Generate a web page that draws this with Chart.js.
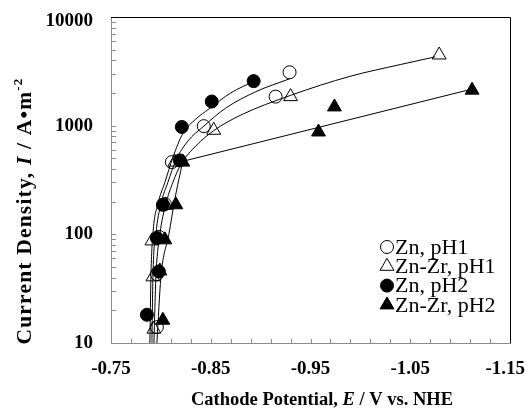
<!DOCTYPE html>
<html>
<head>
<meta charset="utf-8">
<script src="https://cdn.jsdelivr.net/npm/chart.js@4.4.0/dist/chart.umd.min.js"></script>
<style>
  html, body { margin: 0; padding: 0; background: #fff; }
</style>
</head>
<body>
<canvas id="chart" width="531" height="414"></canvas>
<script>
// Measured points (E in V vs. NHE, current density in A/m2)
const znPh1X = [-0.796, -0.796, -0.798, -0.804, -0.811, -0.843, -0.915, -0.929];
const znPh1Y = [14, 43, 95, 190, 462, 990, 1850, 3100];

const znZrPh1X = [-0.793, -0.792, -0.791, -0.805, -0.814, -0.853, -0.930, -1.079];
const znZrPh1Y = [13.4, 40.6, 87, 185, 462, 907, 1850, 4470];

const znPh2X = [-0.786, -0.798, -0.796, -0.802, -0.819, -0.821, -0.851, -0.893];
const znPh2Y = [18.2, 45.5, 92.6, 187, 479, 973, 1668, 2570];

const znZrPh2X = [-0.802, -0.799, -0.804, -0.815, -0.822, -0.958, -0.974, -1.112];
const znZrPh2Y = [16.2, 46, 89, 187, 462, 875, 1488, 2123];

// Fitted curves
const fitZnPh2X = [-0.789, -0.790, -0.792, -0.797, -0.804, -0.812, -0.822, -0.835, -0.848, -0.870, -0.893];
const fitZnPh2Y = [10, 40, 100, 190, 300, 510, 845, 1150, 1420, 2000, 2550];

const fitZnPh1X = [-0.791, -0.792, -0.795, -0.800, -0.807, -0.815, -0.827, -0.843, -0.865, -0.895, -0.929];
const fitZnPh1Y = [10, 40, 100, 190, 300, 480, 720, 990, 1450, 2050, 2700];

const fitZnZrPh1X = [-0.793, -0.795, -0.799, -0.805, -0.812, -0.820, -0.835, -0.853, -0.880, -0.930, -0.990, -1.040, -1.075];
const fitZnZrPh1Y = [10, 40, 100, 190, 300, 440, 650, 900, 1250, 1900, 2850, 3650, 4300];

const fitZnZrPh2X = [-0.796, -0.800, -0.808, -0.814, -0.818, -0.822];
const fitZnZrPh2Y = [10, 40, 100, 210, 320, 470];
const lineZnZrPh2X = [-0.822, -1.110];
const lineZnZrPh2Y = [470, 2150];

// Axis ticks
const xMajorTicks = [-0.75, -0.85, -0.95, -1.05, -1.15];
const xMinorTicks = [-0.77, -0.79, -0.81, -0.83, -0.85, -0.87, -0.89, -0.91, -0.93, -0.95, -0.97, -0.99,
                     -1.01, -1.03, -1.05, -1.07, -1.09, -1.11, -1.13];
const yMajorTicks = [10, 100, 1000, 10000];
const yMinorTicks = [20, 30, 40, 50, 60, 70, 80, 90, 100, 200, 300, 400, 500, 600, 700, 800, 900,
                     1000, 2000, 3000, 4000, 5000, 6000, 7000, 8000, 9000];

const legendLabels = ['Zn, pH1', 'Zn-Zr, pH1', 'Zn, pH2', 'Zn-Zr, pH2'];

const SERIF = '"Liberation Serif", "Times New Roman", serif';
const AXIS_GRAY = '#8c8c8c';

function pairs(xs, ys) {
    return xs.map((x, i) => ({ x: x, y: ys[i] }));
}

function markerSet(label, xs, ys, style, filled) {
    return {
        label: label,
        data: pairs(xs, ys),
        showLine: false,
        pointStyle: style,
        pointRadius: style === 'triangle' ? 8 : 6.5,
        pointBorderColor: '#000',
        pointBackgroundColor: filled ? '#000' : 'rgba(0,0,0,0)',
        pointBorderWidth: 1,
        order: 2
    };
}

function curveSet(xs, ys, smooth) {
    return {
        label: 'fit',
        data: pairs(xs, ys),
        showLine: true,
        borderColor: '#000',
        borderWidth: 1,
        pointRadius: 0,
        fill: false,
        cubicInterpolationMode: smooth ? 'monotone' : 'default',
        tension: 0,
        order: 1
    };
}

// draw a string made of pieces with their own fonts, centred on x
function drawRich(ctx, parts, cx, baseY) {
    let total = 0;
    parts.forEach(p => { ctx.font = p.font; p.w = ctx.measureText(p.text).width; total += p.w; });
    let x = cx - total / 2;
    parts.forEach(p => {
        ctx.font = p.font;
        ctx.fillText(p.text, x, baseY - (p.rise || 0));
        x += p.w;
    });
}

function drawMarker(ctx, style, filled, x, y) {
    ctx.beginPath();
    if (style === 'circle') {
        ctx.arc(x, y, 6.5, 0, Math.PI * 2);
    } else {
        const r = 8;
        ctx.moveTo(x, y - r);
        ctx.lineTo(x + r * 0.866, y + r * 0.5);
        ctx.lineTo(x - r * 0.866, y + r * 0.5);
        ctx.closePath();
    }
    if (filled) { ctx.fillStyle = '#000'; ctx.fill(); }
    ctx.strokeStyle = '#000';
    ctx.lineWidth = 1;
    ctx.stroke();
}

const decorPlugin = {
    id: 'decor',
    afterDraw(chart) {
        const ctx = chart.ctx;
        const area = chart.chartArea;
        const xs = chart.scales.x;
        const ys = chart.scales.y;
        ctx.save();

        // inner tick marks
        ctx.strokeStyle = AXIS_GRAY;
        ctx.lineWidth = 1;
        ctx.beginPath();
        xMinorTicks.forEach(v => {
            const px = Math.round(xs.getPixelForValue(v)) + 0.5;
            ctx.moveTo(px, area.bottom);
            ctx.lineTo(px, area.bottom - 4);
        });
        yMinorTicks.forEach(v => {
            const py = Math.round(ys.getPixelForValue(v)) + 0.5;
            ctx.moveTo(area.left, py);
            ctx.lineTo(area.left + 5, py);
        });
        ctx.stroke();

        // top and right frame
        ctx.strokeStyle = '#000';
        ctx.beginPath();
        ctx.moveTo(area.left, Math.round(area.top) + 0.5);
        ctx.lineTo(Math.round(area.right) + 0.5, Math.round(area.top) + 0.5);
        ctx.lineTo(Math.round(area.right) + 0.5, area.bottom);
        ctx.stroke();

        // tick labels
        ctx.fillStyle = '#000';
        ctx.font = 'bold 19px ' + SERIF;
        ctx.textBaseline = 'middle';
        ctx.textAlign = 'center';
        xMajorTicks.forEach(v => {
            const label = v.toFixed(2);
            const w = ctx.measureText(label).width;
            const px = Math.min(xs.getPixelForValue(v), chart.width - w / 2 - 6);
            ctx.fillText(label, px, area.bottom + 26);
        });
        ctx.textAlign = 'right';
        yMajorTicks.forEach(v => {
            let py = ys.getPixelForValue(v);
            py = Math.min(Math.max(py, area.top + 4), area.bottom + 2.5);
            ctx.fillText(String(v), area.left - 18, py);
        });

        // legend
        const styles = [['circle', false], ['triangle', false], ['circle', true], ['triangle', true]];
        legendLabels.forEach((lab, i) => {
            const ly = 247 + i * 19.3;
            drawMarker(ctx, styles[i][0], styles[i][1], 387, ly);
            ctx.fillStyle = '#000';
            ctx.font = '22px ' + SERIF;
            ctx.textAlign = 'left';
            ctx.fillText(lab, 395, ly + 1);
        });

        // axis titles
        ctx.fillStyle = '#000';
        ctx.textBaseline = 'alphabetic';
        ctx.textAlign = 'left';
        const bold = 'bold 18.5px ' + SERIF;
        const boldIt = 'italic bold 18.5px ' + SERIF;
        drawRich(ctx, [
            { text: 'Cathode Potential, ', font: bold },
            { text: 'E', font: boldIt },
            { text: ' / V vs. NHE', font: bold }
        ], 322, 405);

        const yb = 'bold 21.5px ' + SERIF;
        ctx.save();
        ctx.letterSpacing = '1.2px';
        ctx.translate(31, 211);
        ctx.rotate(-Math.PI / 2);
        drawRich(ctx, [
            { text: 'Current Density, ', font: yb },
            { text: 'I', font: 'italic ' + yb },
            { text: ' / A\u2022m', font: yb },
            { text: '-2', font: 'bold 13px ' + SERIF, rise: 9 }
        ], 0, 0);
        ctx.restore();

        ctx.restore();
    }
};

const datasets = [
    curveSet(fitZnPh2X, fitZnPh2Y, true),
    curveSet(fitZnPh1X, fitZnPh1Y, true),
    curveSet(fitZnZrPh1X, fitZnZrPh1Y, true),
    curveSet(fitZnZrPh2X, fitZnZrPh2Y, true),
    curveSet(lineZnZrPh2X, lineZnZrPh2Y, false),
    markerSet(legendLabels[0], znPh1X, znPh1Y, 'circle', false),
    markerSet(legendLabels[1], znZrPh1X, znZrPh1Y, 'triangle', false),
    markerSet(legendLabels[2], znPh2X, znPh2Y, 'circle', true),
    markerSet(legendLabels[3], znZrPh2X, znZrPh2Y, 'triangle', true)
];

new Chart(document.getElementById('chart'), {
    type: 'scatter',
    data: { datasets: datasets },
    options: {
        responsive: false,
        animation: false,
        layout: { padding: { left: 0, top: 17, right: 21, bottom: 0 } },
        plugins: {
            legend: { display: false },
            tooltip: { enabled: false }
        },
        scales: {
            x: {
                type: 'linear',
                reverse: true,
                min: -1.15,
                max: -0.75,
                grid: { display: false, drawTicks: false },
                border: { display: true, color: AXIS_GRAY, width: 1 },
                ticks: { display: false },
                afterFit: s => { s.height = 71; }
            },
            y: {
                type: 'logarithmic',
                min: 10,
                max: 10000,
                grid: { display: false, drawTicks: false },
                border: { display: true, color: AXIS_GRAY, width: 1 },
                ticks: { display: false },
                afterFit: s => { s.width = 111; }
            }
        }
    },
    plugins: [decorPlugin]
});
</script>
</body>
</html>
